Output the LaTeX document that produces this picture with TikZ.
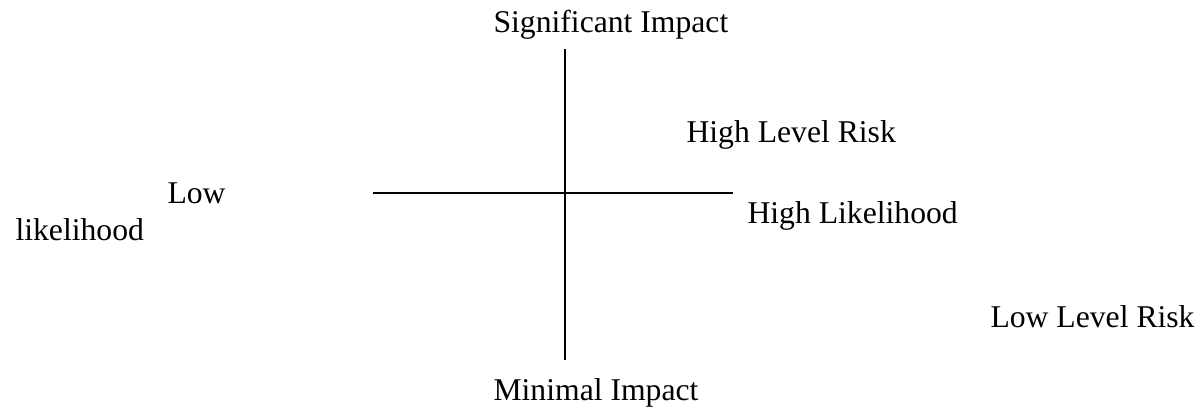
\documentclass[tikz,border=0pt]{standalone}
\usepackage{fontspec}
\setmainfont{Liberation Serif}
\usepackage{tikz}
\usetikzlibrary{positioning}

\begin{document}
\begin{tikzpicture}[x=0.379pt, y=-0.379pt, font=\fontsize{12}{14}\selectfont,
    lbl/.style={inner sep=0pt, anchor=base west},
    axis/.style={line width=0.75pt}]
            \useasboundingbox (0,0) rectangle (1203,409);

            \coordinate (top) at (565, 49);
            \coordinate (bottom) at (565, 360);
            \coordinate (left) at (373, 193);
            \coordinate (right) at (733, 193);

            \draw[axis] (top)--(bottom);
            \draw[axis] (left)--(right);

            \node[lbl] (significant) at (493, 33) {Significant Impact};
            \node[lbl] (minimal) at (493, 400) {Minimal Impact};
            \node[lbl] (highrisk) at (686, 143) {High Level Risk};
            \node[lbl] (highlike) at (747, 224) {High Likelihood};
            \node[lbl] (low) at (167, 203) {Low};
            \node[lbl] (likelihood) at (15, 241) {likelihood};
            \node[lbl] (lowrisk) at (990, 327) {Low Level Risk};
\end{tikzpicture}
\end{document}
